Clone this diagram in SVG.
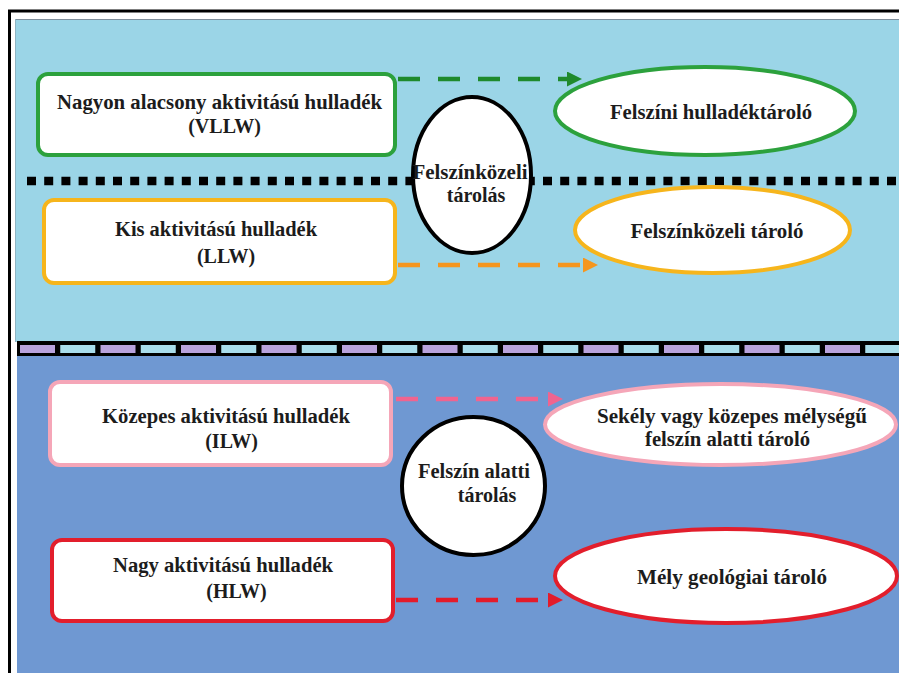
<svg xmlns="http://www.w3.org/2000/svg" width="899" height="673" viewBox="0 0 899 673">
<style>
  text { font-family: "Liberation Serif", "Times New Roman", serif; font-weight: bold; font-size: 20px; fill: #1c1c1c; text-anchor: middle; }
  .box { fill: #ffffff; stroke-width: 4; }
  .oval { fill: #ffffff; stroke-width: 4; }
  .hub { fill: #ffffff; stroke: #000000; stroke-width: 4; }
  .flow { fill: none; stroke-width: 4.5; stroke-dasharray: 22 18; }
</style>
<defs>
  <marker id="ah-green" markerUnits="userSpaceOnUse" markerWidth="16" markerHeight="16" refX="0" refY="7.5" orient="auto"><path d="M0,0 L15,7.5 L0,15 z" fill="#1f8a2c"/></marker>
  <marker id="ah-orange" markerUnits="userSpaceOnUse" markerWidth="16" markerHeight="16" refX="0" refY="7.5" orient="auto"><path d="M0,0 L15,7.5 L0,15 z" fill="#f5961f"/></marker>
  <marker id="ah-pink" markerUnits="userSpaceOnUse" markerWidth="16" markerHeight="16" refX="0" refY="7.5" orient="auto"><path d="M0,0 L15,7.5 L0,15 z" fill="#f0648f"/></marker>
  <marker id="ah-red" markerUnits="userSpaceOnUse" markerWidth="16" markerHeight="16" refX="0" refY="7.5" orient="auto"><path d="M0,0 L15,7.5 L0,15 z" fill="#e31b2a"/></marker>
</defs>

<g id="background">
  <rect x="0" y="0" width="899" height="673" fill="#ffffff"/>
  <line x1="8" y1="11" x2="899" y2="11" stroke="#000000" stroke-width="3"/>
  <line x1="9.5" y1="10" x2="9.5" y2="673" stroke="#000000" stroke-width="3"/>
  <rect x="15" y="19" width="884" height="323" fill="#9bd5e7"/>
  <line x1="15" y1="19.5" x2="899" y2="19.5" stroke="#7f8f9c" stroke-width="1"/>
  <line x1="15.5" y1="19" x2="15.5" y2="342" stroke="#8fb5c4" stroke-width="1"/>
  <rect x="17" y="356" width="882" height="317" fill="#6f98d2"/>
  <rect x="17" y="341" width="882" height="15" fill="#000000"/>
  <line x1="20" y1="349" x2="899" y2="349" stroke="#b9a3dd" stroke-width="8" stroke-dasharray="35 45.5"/>
  <line x1="60.25" y1="349" x2="899" y2="349" stroke="#a9ddeb" stroke-width="8" stroke-dasharray="35 45.5"/>
  <line x1="27" y1="181" x2="899" y2="181" stroke="#000000" stroke-width="8.5" stroke-dasharray="9 8.2"/>
</g>

<g id="connectors">
  <line class="flow" x1="398" y1="79" x2="567" y2="79" stroke="#1f8a2c" marker-end="url(#ah-green)"/>
  <line class="flow" x1="398" y1="265" x2="583" y2="265" stroke="#f5961f" marker-end="url(#ah-orange)"/>
  <line class="flow" x1="396" y1="399" x2="548" y2="399" stroke="#f0648f" marker-end="url(#ah-pink)"/>
  <line class="flow" x1="396" y1="600" x2="548" y2="600" stroke="#e31b2a" marker-end="url(#ah-red)"/>
</g>

<g id="node-vllw">
  <rect class="box" x="38" y="74" width="357" height="81" rx="10" stroke="#2ca13d"/>
  <text x="219.5" y="109" textLength="325" lengthAdjust="spacingAndGlyphs">Nagyon alacsony aktivitású hulladék</text>
  <text x="224.5" y="133">(VLLW)</text>
</g>

<g id="node-llw">
  <rect class="box" x="44" y="200" width="351" height="83" rx="10" stroke="#f6b51c"/>
  <text x="216" y="236" textLength="202" lengthAdjust="spacingAndGlyphs">Kis aktivitású hulladék</text>
  <text x="226" y="263">(LLW)</text>
</g>

<g id="node-ilw">
  <rect class="box" x="50" y="382" width="341" height="83" rx="10" stroke="#f5a6b8"/>
  <text x="226" y="423" textLength="248" lengthAdjust="spacingAndGlyphs">Közepes aktivitású hulladék</text>
  <text x="231.5" y="448">(ILW)</text>
</g>

<g id="node-hlw">
  <rect class="box" x="52" y="540" width="341" height="81" rx="10" stroke="#e21e2c"/>
  <text x="223" y="572" textLength="220" lengthAdjust="spacingAndGlyphs">Nagy aktivitású hulladék</text>
  <text x="236.5" y="598">(HLW)</text>
</g>

<g id="node-near-surface-storage">
  <ellipse class="hub" cx="472" cy="175" rx="59" ry="78"/>
  <text x="470" y="179" textLength="115" lengthAdjust="spacingAndGlyphs">Felszínközeli</text>
  <text x="476" y="202">tárolás</text>
</g>

<g id="node-subsurface-storage">
  <ellipse class="hub" cx="473.5" cy="486" rx="71.5" ry="69"/>
  <text x="474" y="478" textLength="112" lengthAdjust="spacingAndGlyphs">Felszín alatti</text>
  <text x="487" y="502">tárolás</text>
</g>

<g id="node-surface-repository">
  <ellipse class="oval" cx="705" cy="111" rx="150" ry="44" stroke="#2ca13d"/>
  <text x="711" y="119" textLength="202" lengthAdjust="spacingAndGlyphs">Felszíni hulladéktároló</text>
</g>

<g id="node-near-surface-repository">
  <ellipse class="oval" cx="712.5" cy="230" rx="137.5" ry="43" stroke="#f6b51c"/>
  <text x="717" y="238" textLength="173" lengthAdjust="spacingAndGlyphs">Felszínközeli tároló</text>
</g>

<g id="node-shallow-repository">
  <ellipse class="oval" cx="720.5" cy="424.5" rx="175.5" ry="40.5" stroke="#f5a6b8"/>
  <text x="732" y="423" textLength="270" lengthAdjust="spacingAndGlyphs">Sekély vagy közepes mélységű</text>
  <text x="727.5" y="446" textLength="165" lengthAdjust="spacingAndGlyphs">felszín alatti tároló</text>
</g>

<g id="node-deep-repository">
  <ellipse class="oval" cx="726" cy="576" rx="171" ry="47" stroke="#e21e2c"/>
  <text x="732" y="584" textLength="190" lengthAdjust="spacingAndGlyphs">Mély geológiai tároló</text>
</g>
</svg>
